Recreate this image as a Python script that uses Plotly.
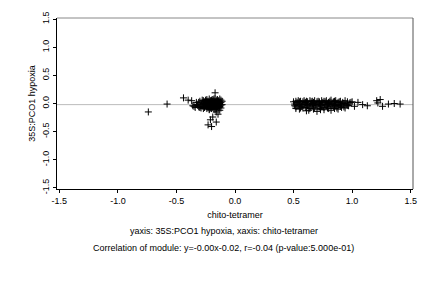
import plotly.graph_objects as go

# ---- data ----
x_vals = [
    -0.74, -0.58, -0.44, -0.40, -0.37, -0.36, -0.34, -0.33, -0.17, -0.145,
    -0.19, -0.21, -0.16, -0.23, -0.20, -0.13, -0.16,
    -0.32, -0.31, -0.30, -0.30, -0.29, -0.29, -0.28, -0.28, -0.27, -0.27,
    -0.26, -0.26, -0.26, -0.25, -0.25, -0.25, -0.24, -0.24, -0.24, -0.23,
    -0.23, -0.23, -0.22, -0.22, -0.22, -0.22, -0.21, -0.21, -0.21, -0.21,
    -0.20, -0.20, -0.20, -0.20, -0.19, -0.19, -0.19, -0.19, -0.18, -0.18,
    -0.18, -0.18, -0.17, -0.17, -0.17, -0.17, -0.16, -0.16, -0.16, -0.16,
    -0.15, -0.15, -0.15, -0.15, -0.14, -0.14, -0.14, -0.14, -0.13, -0.13,
    -0.13, -0.12, -0.12, -0.12, -0.11, -0.11, -0.28, -0.26, -0.24, -0.22,
    -0.20, -0.18, -0.16, -0.14, -0.30, -0.27, -0.25, -0.23, -0.21, -0.19,
    -0.17, -0.15, -0.13, -0.35, -0.33, -0.31, -0.12, -0.14, -0.18, -0.22,
    0.50, 0.51, 0.52, 0.52, 0.53, 0.54, 0.54, 0.55, 0.56, 0.56,
    0.57, 0.58, 0.58, 0.59, 0.60, 0.60, 0.61, 0.62, 0.62, 0.63,
    0.64, 0.64, 0.65, 0.66, 0.66, 0.67, 0.68, 0.68, 0.69, 0.70,
    0.70, 0.71, 0.72, 0.72, 0.73, 0.74, 0.74, 0.75, 0.76, 0.76,
    0.77, 0.78, 0.78, 0.79, 0.80, 0.80, 0.81, 0.82, 0.82, 0.83,
    0.84, 0.84, 0.85, 0.86, 0.86, 0.87, 0.88, 0.88, 0.89, 0.90,
    0.90, 0.91, 0.92, 0.93, 0.94, 0.95, 0.96, 0.97, 0.98, 1.00,
    0.51, 0.53, 0.55, 0.57, 0.59, 0.61, 0.63, 0.65, 0.67, 0.69,
    0.71, 0.73, 0.75, 0.77, 0.79, 0.81, 0.83, 0.85, 0.87, 0.89,
    0.52, 0.55, 0.58, 0.61, 0.64, 0.67, 0.70, 0.73, 0.76, 0.79,
    0.82, 0.85, 0.88, 0.91, 0.94, 0.60, 0.66, 0.72, 0.80, 0.86,
    0.93, 0.96, 0.99, 1.02, 1.05, 1.09, 1.13,
    1.21, 1.24, 1.22, 1.26, 1.31, 1.36, 1.41,
]
y_vals = [
    -0.15, -0.01, 0.10, 0.06, 0.05, -0.04, -0.07, 0.02, 0.19, -0.19,
    -0.24, -0.29, -0.33, -0.38, -0.41, -0.12, -0.15,
    -0.03, 0.02, -0.06, 0.04, -0.02, -0.08, 0.01, -0.05, 0.05, -0.09,
    0.03, -0.03, -0.07, 0.06, 0.00, -0.05, 0.07, -0.02, -0.09, 0.04,
    -0.01, -0.06, 0.08, 0.02, -0.04, -0.10, 0.05, 0.00, -0.03, -0.08,
    0.06, 0.01, -0.05, -0.09, 0.07, 0.03, -0.02, -0.07, 0.05, 0.00,
    -0.04, -0.10, 0.08, 0.02, -0.03, -0.08, 0.06, 0.01, -0.05, -0.09,
    0.04, -0.01, -0.06, 0.07, 0.03, -0.02, -0.07, 0.05, 0.00, -0.05,
    0.08, 0.02, -0.03, -0.08, 0.04, -0.02, 0.06, -0.06, 0.03, -0.01,
    0.04, -0.06, 0.02, -0.04, -0.07, 0.00, 0.05, -0.07, 0.01, -0.03,
    -0.11, 0.03, -0.06, -0.05, -0.02, -0.06, 0.06, 0.01, 0.08, -0.11,
    0.03, -0.04, 0.04, -0.06, 0.02, 0.05, -0.03, 0.03, -0.08, 0.04,
    -0.05, 0.03, -0.02, 0.05, -0.07, 0.02, 0.04, -0.04, 0.03, -0.12,
    0.05, -0.06, 0.03, -0.03, 0.04, 0.02, -0.08, 0.05, -0.04, 0.03,
    -0.02, 0.04, -0.06, 0.03, -0.11, 0.05, -0.04, 0.02, 0.04, -0.07,
    0.03, -0.03, 0.05, -0.05, 0.02, -0.09, 0.04, -0.04, 0.06, -0.02,
    0.03, -0.06, 0.04, -0.03, 0.05, -0.08, 0.02, -0.04, 0.03, -0.05,
    0.04, -0.03, 0.02, -0.06, 0.05, -0.02, 0.03, -0.04, 0.01, 0.03,
    -0.01, -0.02, -0.01, -0.02, -0.01, -0.02, -0.01, -0.02, -0.01, -0.02,
    -0.01, -0.02, -0.01, -0.02, -0.01, -0.02, -0.01, -0.02, -0.01, -0.02,
    -0.09, -0.10, -0.08, -0.13, -0.09, -0.10, -0.14, -0.09, -0.11, -0.08,
    -0.12, -0.09, -0.10, -0.07, -0.08, 0.01, 0.00, 0.01, 0.00, 0.01,
    0.00, -0.03, 0.02, -0.05, 0.02, -0.02, -0.04,
    0.05, 0.07, 0.01, -0.05, -0.01, 0.00, -0.01,
]
slope = -0.00
intercept = -0.02
x_ticks = [-1.5, -1.0, -0.5, 0.0, 0.5, 1.0, 1.5]
y_ticks = [-1.5, -1.0, -0.5, 0.0, 0.5, 1.0, 1.5]
x_title = "chito-tetramer"
y_title = "35S:PCO1 hypoxia"
line1 = "yaxis: 35S:PCO1 hypoxia, xaxis: chito-tetramer"
line2 = "Correlation of module: y=-0.00x-0.02, r=-0.04 (p-value:5.000e-01)"

xr = [-1.52, 1.52]
yr = [-1.52, 1.52]

FONT = "Liberation Sans, Arial, Helvetica, sans-serif"
FS = 9

fig = go.Figure()
fig.add_trace(go.Scatter(
    x=xr, y=[slope * v + intercept for v in xr], mode="lines",
    line=dict(color="#bbbbbb", width=1), hoverinfo="skip", showlegend=False,
))
fig.add_trace(go.Scatter(
    x=x_vals, y=y_vals, mode="markers",
    marker=dict(symbol="cross-thin", size=5, line=dict(color="black", width=1), color="black"),
    showlegend=False,
))

fig.update_layout(
    width=432, height=288,
    margin=dict(l=57, r=19, t=12, b=99),
    paper_bgcolor="white", plot_bgcolor="white",
    font=dict(family=FONT, size=FS, color="black"),
    xaxis=dict(
        range=xr, tickvals=x_ticks, ticktext=[f"{v:.1f}" for v in x_ticks],
        showgrid=False, zeroline=False, showline=True, linecolor="black", linewidth=1,
        ticks="outside", ticklen=3, tickcolor="black",
        title=dict(text=x_title, font=dict(size=FS, color="black"), standoff=6),
    ),
    yaxis=dict(
        range=yr, tickvals=y_ticks, ticktext=[f"{v:.1f}" for v in y_ticks],
        showgrid=False, zeroline=False, showline=True, linecolor="black", linewidth=1,
        ticks="outside", ticklen=3, tickcolor="black", tickangle=-90,
        title=dict(text=y_title, font=dict(size=FS, color="black"), standoff=4),
    ),
    shapes=[
        dict(type="line", xref="paper", yref="paper", x0=0, x1=1, y0=1, y1=1,
             line=dict(color="#888888", width=1)),
        dict(type="line", xref="paper", yref="paper", x0=1, x1=1, y0=0, y1=1,
             line=dict(color="#555555", width=1)),
    ],
    annotations=[
        dict(text=line1, xref="paper", yref="paper", x=0.468, y=-0.248,
             showarrow=False, xanchor="center", yanchor="middle", font=dict(size=FS)),
        dict(text=line2, xref="paper", yref="paper", x=0.468, y=-0.345,
             showarrow=False, xanchor="center", yanchor="middle", font=dict(size=FS)),
    ],
)

fig.write_html("out.html")
